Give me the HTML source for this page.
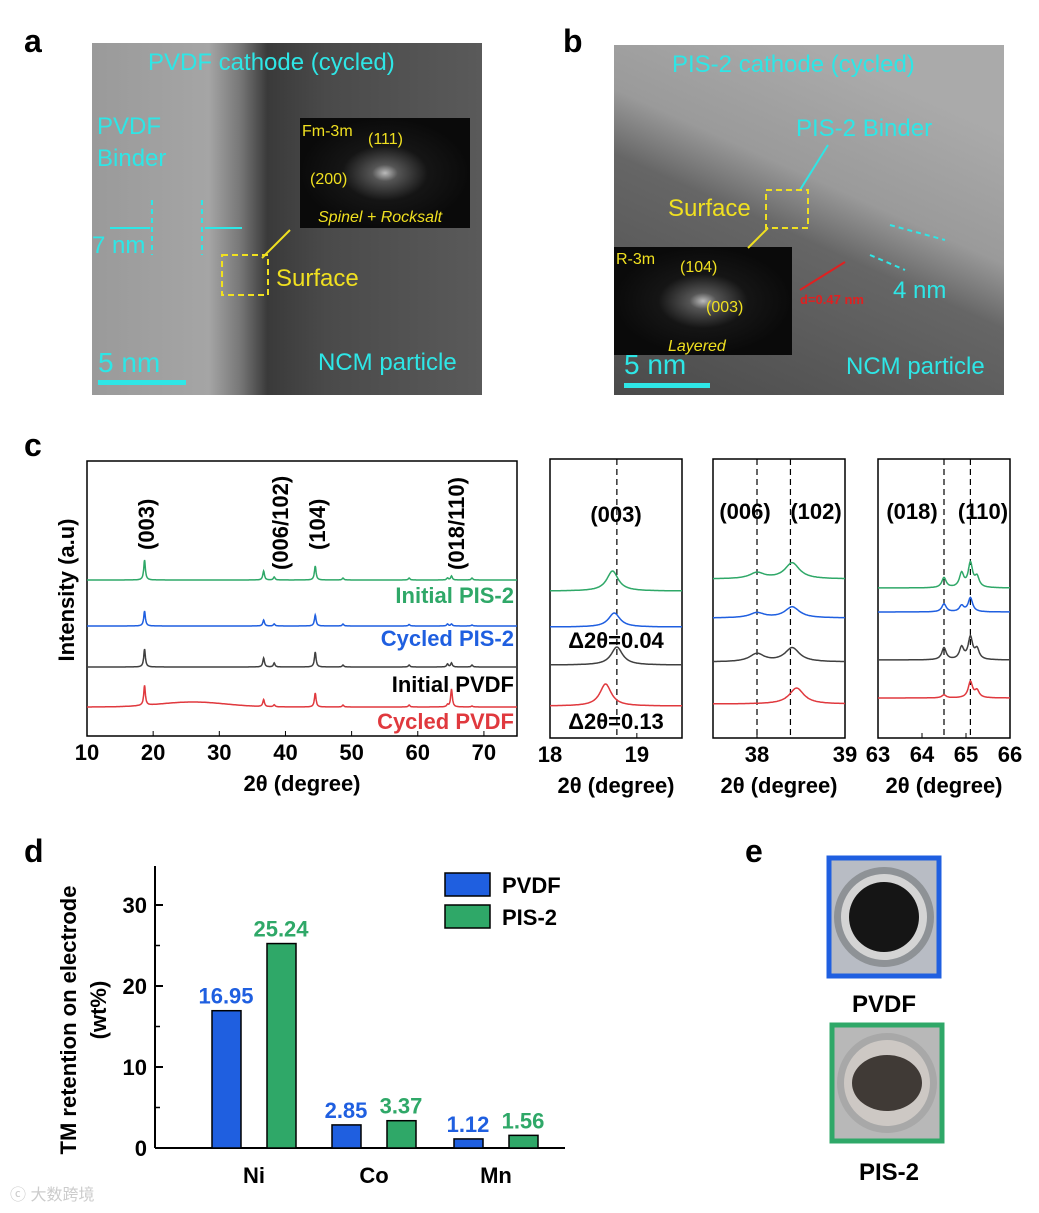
<!DOCTYPE html>
<html><head><meta charset="utf-8"><style>
body{margin:0;background:#fff;}
svg{display:block;font-family:"Liberation Sans",Arial,sans-serif;}
</style></head><body>
<svg width="1039" height="1213" viewBox="0 0 1039 1213">
<defs>
<linearGradient id="ga" x1="0" x2="1" y1="0" y2="0">
<stop offset="0" stop-color="#9a9a9a"/><stop offset="0.3" stop-color="#a5a5a5"/><stop offset="0.38" stop-color="#777"/><stop offset="0.45" stop-color="#3a3a3a"/><stop offset="0.6" stop-color="#4a4a4a"/><stop offset="1" stop-color="#5a5a5a"/>
</linearGradient>
<linearGradient id="gb" x1="0" x2="0.5" y1="1" y2="0">
<stop offset="0" stop-color="#4a4a4a"/><stop offset="0.55" stop-color="#666"/><stop offset="0.7" stop-color="#9a9a9a"/><stop offset="1" stop-color="#aaa"/>
</linearGradient>
<radialGradient id="fft"><stop offset="0" stop-color="#bbb"/><stop offset="0.15" stop-color="#555"/><stop offset="0.5" stop-color="#151515"/><stop offset="1" stop-color="#0a0a0a"/></radialGradient>
</defs>

<!-- Panel a -->
<text x="24" y="52" font-size="32" font-weight="bold">a</text>
<rect x="92" y="43" width="390" height="352" fill="url(#ga)"/>
<rect x="300" y="118" width="170" height="110" fill="url(#fft)"/>
<g fill="#2ee6e6" font-size="24">
<text x="148" y="70">PVDF cathode (cycled)</text>
<text x="97" y="134">PVDF</text>
<text x="97" y="166">Binder</text>
<text x="92" y="253">7 nm</text>
<text x="318" y="370">NCM particle</text>
<text x="98" y="372" font-size="28">5  nm</text>
</g>
<rect x="98" y="380" width="88" height="5" fill="#2ee6e6"/>
<g stroke="#2ee6e6" stroke-width="2" stroke-dasharray="5,4"><line x1="152" y1="200" x2="152" y2="255"/><line x1="202" y1="200" x2="202" y2="255"/></g>
<g stroke="#2ee6e6" stroke-width="2"><line x1="110" y1="228" x2="150" y2="228"/><line x1="205" y1="228" x2="242" y2="228"/></g>
<rect x="222" y="255" width="46" height="40" fill="none" stroke="#f0e020" stroke-width="2" stroke-dasharray="6,4"/>
<line x1="262" y1="258" x2="290" y2="230" stroke="#f0e020" stroke-width="2"/>
<g fill="#f0e020" font-size="16">
<text x="302" y="136">Fm-3m</text><text x="368" y="144">(111)</text><text x="310" y="184">(200)</text>
<text x="318" y="222" font-style="italic">Spinel + Rocksalt</text>
<text x="276" y="286" font-size="24">Surface</text>
</g>

<!-- Panel b -->
<text x="563" y="52" font-size="32" font-weight="bold">b</text>
<rect x="614" y="45" width="390" height="350" fill="url(#gb)"/>
<rect x="614" y="247" width="178" height="108" fill="url(#fft)"/>
<g fill="#2ee6e6" font-size="24">
<text x="672" y="72">PIS-2 cathode (cycled)</text>
<text x="796" y="136">PIS-2 Binder</text>
<text x="893" y="298">4 nm</text>
<text x="846" y="374">NCM particle</text>
<text x="624" y="374" font-size="28">5  nm</text>
</g>
<rect x="624" y="383" width="86" height="5" fill="#2ee6e6"/>
<line x1="800" y1="190" x2="828" y2="145" stroke="#2ee6e6" stroke-width="2"/>
<g stroke="#2ee6e6" stroke-width="2" stroke-dasharray="5,4"><line x1="890" y1="225" x2="945" y2="240"/><line x1="870" y1="255" x2="905" y2="270"/></g>
<rect x="766" y="190" width="42" height="38" fill="none" stroke="#f0e020" stroke-width="2" stroke-dasharray="6,4"/>
<line x1="768" y1="228" x2="748" y2="248" stroke="#f0e020" stroke-width="2"/>
<text x="668" y="216" fill="#f0e020" font-size="24">Surface</text>
<g fill="#f0e020" font-size="16"><text x="616" y="264">R-3m</text><text x="680" y="272">(104)</text><text x="706" y="312">(003)</text><text x="668" y="351" font-style="italic">Layered</text></g>
<text x="800" y="304" fill="#e02020" font-size="13" font-weight="bold">d=0.47 nm</text>
<line x1="800" y1="290" x2="845" y2="262" stroke="#e02020" stroke-width="2"/>

<!-- Panel c -->
<text x="24" y="456" font-size="32" font-weight="bold">c</text>
<g id="xrd"></g>

<!-- Panel d -->
<text x="24" y="862" font-size="32" font-weight="bold">d</text>
<g id="bars"></g>

<!-- Panel e -->
<text x="745" y="862" font-size="32" font-weight="bold">e</text>
<rect x="829" y="858" width="110" height="118" fill="#b8bcc4" stroke="#1f5fe0" stroke-width="5"/>
<circle cx="884" cy="917" r="50" fill="#8e9296"/><circle cx="884" cy="917" r="43" fill="#d4d4d4"/><circle cx="884" cy="917" r="35" fill="#151515"/>
<text x="884" y="1012" text-anchor="middle" font-size="24" font-weight="bold">PVDF</text>
<rect x="832" y="1025" width="110" height="116" fill="#b8b8b8" stroke="#2fa868" stroke-width="5"/>
<circle cx="887" cy="1083" r="50" fill="#a8a8a8"/><circle cx="887" cy="1083" r="43" fill="#cdc8c4"/><ellipse cx="887" cy="1083" rx="35" ry="28" fill="#403a36"/>
<text x="889" y="1180" text-anchor="middle" font-size="24" font-weight="bold">PIS-2</text>
<text x="10" y="1200" fill="#ccc" font-size="16" font-family="'Liberation Sans','Noto Sans CJK SC',sans-serif">ⓒ 大数跨境</text>
</svg>
<script>
// ---- XRD data ----
const seriesNames = ["Initial PIS-2","Cycled PIS-2","Initial PVDF","Cycled PVDF"];
const seriesColors = ["#2fa868","#1f5fe0","#404040","#e0393e"];
// main pattern peaks: [position, height]
const mainPeaks = [
 [[18.7,20],[36.7,9],[38.3,3],[44.5,14],[48.7,2],[58.7,2],[64.5,2],[65.1,4],[68.2,2]],
 [[18.7,15],[36.7,6],[38.3,2],[44.5,11],[48.7,2],[58.7,1.5],[64.5,2],[65.1,2],[68.2,1]],
 [[18.7,18],[36.7,9],[38.3,4],[44.5,15],[48.7,2],[58.7,2],[64.5,3],[65.1,4],[68.2,2]],
 [[18.7,20],[36.7,7],[38.3,2],[44.5,14],[48.7,2],[58.7,2],[64.5,2],[65.1,18],[68.2,1]]
];
// broad amorphous humps: [position, height, width]
const mainHumps = [[],[],[],[[26,5,7]]];
const mainBase = [580,626,667,707];
const inset1Peaks = [[[18.72,20]],[[18.74,14]],[[18.77,18]],[[18.64,22]]];
const inset1Base = [591,627,665,706];
const inset2Peaks = [[[38.0,6],[38.4,16]],[[38.0,5],[38.4,11]],[[38.0,8],[38.4,14]],[[38.45,16]]];
const inset2Base = [579,618,662,704];
const inset3Peaks = [[[64.5,10],[64.9,14],[65.1,24],[65.25,10]],[[64.5,8],[64.9,6],[65.1,14]],[[64.5,12],[64.9,12],[65.1,22],[65.25,10]],[[64.5,3],[65.1,16],[65.25,7]]];
const inset3Base = [588,612,660,698];
const mainTicks = [10,20,30,40,50,60,70];
const t1 = [18,19], t2=[38,39], t3=[63,64,65,66];

const NS="http://www.w3.org/2000/svg";
function el(tag,attrs,parent){const e=document.createElementNS(NS,tag);for(const k in attrs)e.setAttribute(k,attrs[k]);parent.appendChild(e);return e;}
const xrd=document.getElementById('xrd');

function panel(x0,x1,y0,y1,d0,d1,peaks,bases,width,ticks,step,dashes,name,humps){
  const X=v=>x0+(v-d0)/(d1-d0)*(x1-x0);
  const fr=el('rect',{x:x0,y:y0,width:x1-x0,height:y1-y0,fill:'none',stroke:'#000','stroke-width':1.5},xrd);
  
  
  dashes.forEach(v=>{el('line',{x1:X(v),x2:X(v),y1:y0,y2:y1,stroke:'#000','stroke-dasharray':'6,4','stroke-width':1.2},xrd);});
  peaks.forEach((pk,i)=>{
    let d='';
    for(let v=d0;v<=d1+1e-9;v+=step){
      let h=0; pk.forEach(([p,a])=>{h+=a/(1+((v-p)/width)**2);});
      if(humps) humps[i].forEach(([p,a,w])=>{h+=a*Math.exp(-(((v-p)/w)**2));});
      d+=(d?'L':'M')+X(v).toFixed(1)+','+(bases[i]-h).toFixed(1);
    }
    const p=el('path',{d:d,fill:'none',stroke:seriesColors[i],'stroke-width':1.5},xrd);
    
    
  });
  ticks.forEach(t=>{
    el('line',{x1:X(t),x2:X(t),y1:y1,y2:y1-5,stroke:'#000'},xrd);
    const tx=el('text',{x:X(t),y:y1+24,'text-anchor':'middle','font-size':22,'font-weight':'bold'},xrd);
    tx.textContent=t;
    
    
  });
  const xl=el('text',{x:(x0+x1)/2,y:y1+55,'text-anchor':'middle','font-size':22,'font-weight':'bold'},xrd);
  xl.textContent='2θ (degree)';
  
  
  return X;
}
panel(87,517,461,736,10,75,mainPeaks,mainBase,0.15,mainTicks,0.05,[],'xrd-main',mainHumps);
panel(550,682,459,738,18,19.52,inset1Peaks,inset1Base,0.08,t1,0.005,[18.77],'inset-003');
panel(713,845,459,738,37.5,39,inset2Peaks,inset2Base,0.1,t2,0.01,[38.0,38.38],'inset-006-102');
panel(878,1010,459,738,63,66,inset3Peaks,inset3Base,0.06,t3,0.01,[64.5,65.1],'inset-018-110');

function txt(x,y,s,o){const t=el('text',Object.assign({x:x,y:y,'font-size':22,'font-weight':'bold'},o||{}),xrd);t.textContent=s;return t;}
const yl=txt(0,0,'Intensity (a.u)',{transform:'translate(74,590) rotate(-90)','text-anchor':'middle'});


[['(003)',146],['(006/102)',280],['(104)',317],['(018/110)',456]].forEach(([s,x])=>{
  const t=txt(0,0,s,{transform:`translate(${x+8},${s.length>6?570:550}) rotate(-90)`});
  
  
});
const labY=[603,646,692,729];
seriesNames.forEach((n,i)=>{
  const t=txt(514,labY[i],n,{'text-anchor':'end',fill:i==2?'#000':seriesColors[i]});
  
  
});
txt(616,522,'(003)',{'text-anchor':'middle'});
txt(745,519,'(006)',{'text-anchor':'middle'});txt(816,519,'(102)',{'text-anchor':'middle'});
txt(912,519,'(018)',{'text-anchor':'middle'});txt(983,519,'(110)',{'text-anchor':'middle'});
txt(616,648,'Δ2θ=0.04',{'text-anchor':'middle'});
txt(616,729,'Δ2θ=0.13',{'text-anchor':'middle'});

// ---- Bar chart data ----
const barCats=["Ni","Co","Mn"];
const pvdfVals=[16.95,2.85,1.12];
const pisVals=[25.24,3.37,1.56];
const yTicks=[0,10,20,30];
const bars=document.getElementById('bars');
const Y=v=>1148-v*8.1;
const catX=[254,374,496];
el('line',{x1:155,x2:155,y1:866,y2:1148,stroke:'#000','stroke-width':2},bars);
el('line',{x1:155,x2:565,y1:1148,y2:1148,stroke:'#000','stroke-width':2},bars);
yTicks.forEach(t=>{
  el('line',{x1:155,x2:163,y1:Y(t),y2:Y(t),stroke:'#000','stroke-width':2},bars);
  const tx=el('text',{x:147,y:Y(t)+8,'text-anchor':'end','font-size':22,'font-weight':'bold'},bars);tx.textContent=t;
  
  
});
[5,15,25].forEach(t=>el('line',{x1:155,x2:160,y1:Y(t),y2:Y(t),stroke:'#000','stroke-width':1.5},bars));
barCats.forEach((c,i)=>{
  [[pvdfVals,'#1f5fe0',-42],[pisVals,'#2fa868',13]].forEach(([arr,col,off])=>{
    const r=el('rect',{x:catX[i]+off,y:Y(arr[i]),width:29,height:Y(0)-Y(arr[i]),fill:col,stroke:'#000','stroke-width':1.5},bars);
    
    
    const v=el('text',{x:catX[i]+off+14,y:Y(arr[i])-7,'text-anchor':'middle','font-size':22,'font-weight':'bold',fill:col},bars);v.textContent=arr[i].toFixed(2);
  });
  const cl=el('text',{x:catX[i],y:1183,'text-anchor':'middle','font-size':22,'font-weight':'bold'},bars);cl.textContent=c;
  
  
});
const t1e=el('text',{transform:'translate(76,1020) rotate(-90)','text-anchor':'middle','font-size':22,'font-weight':'bold'},bars);t1e.textContent='TM retention on electrode';
const t2e=el('text',{transform:'translate(106,1010) rotate(-90)','text-anchor':'middle','font-size':22,'font-weight':'bold'},bars);t2e.textContent='(wt%)';


[['PVDF','#1f5fe0',873],['PIS-2','#2fa868',905]].forEach(([n,c,y])=>{
  const r=el('rect',{x:445,y:y,width:45,height:23,fill:c,stroke:'#000','stroke-width':1.5},bars);
  
  
  const t=el('text',{x:502,y:y+20,'font-size':22,'font-weight':'bold'},bars);t.textContent=n;
  
  
});
</script>
</body></html>
